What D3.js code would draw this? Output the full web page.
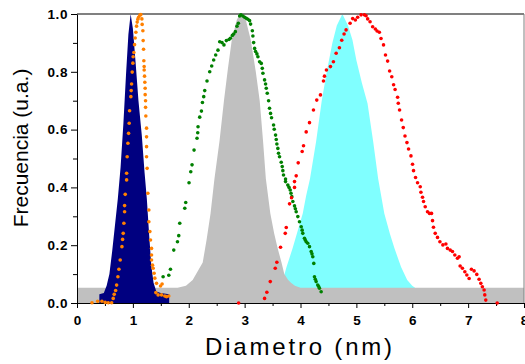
<!DOCTYPE html>
<meta charset="utf-8">
<head>
    <script src="https://d3js.org/d3.v7.min.js"></script>
</head>
<body style="margin:0; background:#fff;">
    <div id="svg_div"></div>
</body>
<style>
    .tick text { font-family: Arial, "Liberation Sans", sans-serif; font-weight: bold; font-size: 13.5px; fill: #000; }
    .yax .tick text { letter-spacing: 0.6px; }
</style>
<script>

    // filled distributions [diametro, frecuencia]
    var navyArea = [[0.40, 0], [0.40, 0.03], [0.48, 0.035], [0.53, 0.06], [0.58, 0.10], [0.63, 0.18], [0.68, 0.27],
        [0.73, 0.36], [0.78, 0.47], [0.83, 0.62], [0.88, 0.80], [0.92, 0.93], [0.96, 1.0], [1.00, 0.95],
        [1.05, 0.83], [1.10, 0.70], [1.16, 0.58], [1.21, 0.45], [1.25, 0.36], [1.29, 0.24], [1.33, 0.13],
        [1.37, 0.07], [1.42, 0.04], [1.50, 0.035], [1.65, 0.03], [1.65, 0]];

    var grayArea = [[0, 0], [0, 0.053], [1.80, 0.053], [1.95, 0.06], [2.07, 0.08], [2.16, 0.11], [2.25, 0.14],
        [2.32, 0.22], [2.39, 0.31], [2.46, 0.43], [2.55, 0.56], [2.63, 0.70], [2.70, 0.81], [2.77, 0.91],
        [2.86, 0.98], [2.92, 1.0], [3.02, 0.98], [3.11, 0.91], [3.20, 0.80], [3.27, 0.70], [3.33, 0.56],
        [3.38, 0.43], [3.46, 0.31], [3.53, 0.24], [3.59, 0.19], [3.66, 0.14], [3.71, 0.10], [3.78, 0.08],
        [3.83, 0.07], [3.90, 0.06], [4.00, 0.053], [8, 0.053], [8, 0]];

    var cyanArea = [[3.70, 0], [3.70, 0.09], [3.75, 0.125], [3.86, 0.19], [3.95, 0.25], [4.04, 0.31], [4.10, 0.37],
        [4.17, 0.43], [4.28, 0.56], [4.38, 0.70], [4.47, 0.80], [4.57, 0.90], [4.65, 0.96], [4.75, 1.0],
        [4.85, 0.96], [4.93, 0.91], [5.00, 0.84], [5.10, 0.76], [5.20, 0.69], [5.30, 0.56], [5.39, 0.43],
        [5.50, 0.31], [5.60, 0.24], [5.68, 0.19], [5.80, 0.125], [5.91, 0.08], [6.00, 0.06], [6.05, 0.053], [6.05, 0]];

    // measured points
    var orangeDots = [[0.268, 0.001], [0.370, 0.006], [0.446, 0.006], [0.505, 0.002], [0.559, 0.001], [0.620, 0.001],
        [0.648, 0.016], [0.666, 0.030], [0.691, 0.043], [0.709, 0.062], [0.732, 0.091], [0.750, 0.117],
        [0.773, 0.149], [0.804, 0.195], [0.816, 0.220], [0.827, 0.241], [0.839, 0.276], [0.852, 0.316],
        [0.852, 0.337], [0.863, 0.376], [0.888, 0.426], [0.888, 0.449], [0.898, 0.506], [0.911, 0.553],
        [0.923, 0.587], [0.934, 0.622], [0.941, 0.665], [0.964, 0.714], [0.970, 0.735], [0.977, 0.758],
        [0.988, 0.799], [1.000, 0.830], [1.005, 0.852], [1.018, 0.867], [1.030, 0.894], [1.041, 0.917],
        [1.054, 0.937], [1.066, 0.958], [1.077, 0.972], [1.089, 0.982], [1.102, 0.989], [1.125, 0.996],
        [1.143, 0.998], [1.161, 0.983], [1.166, 0.964], [1.179, 0.942], [1.184, 0.908], [1.191, 0.878],
        [1.196, 0.838], [1.202, 0.818], [1.202, 0.806], [1.209, 0.785], [1.214, 0.764], [1.220, 0.743],
        [1.220, 0.721], [1.227, 0.700], [1.227, 0.677], [1.232, 0.647], [1.245, 0.605], [1.245, 0.575],
        [1.245, 0.541], [1.245, 0.506], [1.255, 0.466], [1.268, 0.380], [1.286, 0.322], [1.286, 0.281],
        [1.304, 0.247], [1.316, 0.218], [1.334, 0.189], [1.334, 0.166], [1.334, 0.149], [1.352, 0.131],
        [1.363, 0.120], [1.380, 0.103], [1.393, 0.086], [1.423, 0.068], [1.523, 0.066], [1.495, 0.059],
        [1.411, 0.036], [1.452, 0.028], [1.513, 0.028], [1.571, 0.024], [1.602, 0.022], [1.643, 0.024]];

    var greenDots = [[1.541, 0.091], [1.643, 0.096], [1.673, 0.117], [1.732, 0.183], [1.798, 0.212], [1.821, 0.233],
        [1.839, 0.276], [1.929, 0.328], [1.946, 0.348], [2.005, 0.416], [2.036, 0.454], [2.059, 0.478],
        [2.095, 0.529], [2.148, 0.570], [2.161, 0.589], [2.166, 0.610], [2.196, 0.643], [2.227, 0.664],
        [2.245, 0.694], [2.268, 0.714], [2.286, 0.735], [2.327, 0.768], [2.375, 0.800], [2.411, 0.820],
        [2.446, 0.841], [2.482, 0.858], [2.523, 0.875], [2.554, 0.904], [2.595, 0.901], [2.630, 0.893],
        [2.673, 0.908], [2.720, 0.912], [2.745, 0.916], [2.780, 0.926], [2.804, 0.931], [2.834, 0.939],
        [2.863, 0.958], [2.888, 0.968], [2.911, 0.993], [2.934, 0.997], [2.970, 0.993], [3.000, 0.989],
        [3.030, 0.985], [3.059, 0.982], [3.089, 0.977], [3.107, 0.965], [3.138, 0.942], [3.148, 0.924],
        [3.161, 0.901], [3.179, 0.881], [3.196, 0.870], [3.220, 0.862], [3.238, 0.852], [3.268, 0.835],
        [3.298, 0.829], [3.316, 0.812], [3.327, 0.795], [3.357, 0.772], [3.375, 0.758], [3.387, 0.743],
        [3.405, 0.726], [3.429, 0.700], [3.446, 0.674], [3.464, 0.656], [3.482, 0.641], [3.518, 0.616],
        [3.530, 0.601], [3.554, 0.581], [3.566, 0.566], [3.577, 0.550], [3.595, 0.535], [3.607, 0.518],
        [3.625, 0.506], [3.655, 0.487], [3.673, 0.472], [3.684, 0.458], [3.696, 0.443], [3.732, 0.429],
        [3.732, 0.420], [3.773, 0.408], [3.795, 0.400], [3.816, 0.391], [3.830, 0.380], [3.845, 0.368],
        [3.863, 0.351], [3.893, 0.336], [3.908, 0.326], [3.923, 0.316], [3.952, 0.299], [3.982, 0.281],
        [4.013, 0.264], [4.030, 0.252], [4.041, 0.241], [4.071, 0.224], [4.085, 0.218], [4.102, 0.212],
        [4.130, 0.207], [4.161, 0.195], [4.191, 0.178], [4.205, 0.170], [4.220, 0.160], [4.238, 0.137],
        [4.250, 0.091], [4.265, 0.082], [4.280, 0.074], [4.309, 0.062], [4.325, 0.057], [4.339, 0.051], [4.370, 0.039]];

    var redDots = [[2.893, 0.0], [3.357, 0.016], [3.398, 0.037], [3.459, 0.074], [3.548, 0.120], [3.577, 0.141],
        [3.643, 0.193], [3.727, 0.241], [3.745, 0.261], [3.804, 0.343], [3.839, 0.364], [3.893, 0.400],
        [3.893, 0.420], [3.923, 0.440], [3.959, 0.485], [4.030, 0.524], [4.054, 0.544], [4.102, 0.592],
        [4.161, 0.624], [4.232, 0.668], [4.291, 0.702], [4.357, 0.720], [4.411, 0.768], [4.429, 0.785],
        [4.464, 0.806], [4.536, 0.818], [4.589, 0.835], [4.638, 0.864], [4.696, 0.883], [4.738, 0.909],
        [4.780, 0.931], [4.816, 0.945], [4.888, 0.968], [4.934, 0.984], [4.982, 0.979], [5.023, 0.989],
        [5.084, 0.997], [5.143, 0.997], [5.173, 0.994], [5.202, 0.983], [5.245, 0.973], [5.291, 0.956],
        [5.339, 0.948], [5.370, 0.941], [5.411, 0.937], [5.441, 0.915], [5.486, 0.893], [5.521, 0.858],
        [5.559, 0.837], [5.595, 0.803], [5.634, 0.783], [5.666, 0.755], [5.693, 0.739], [5.738, 0.712],
        [5.750, 0.691], [5.773, 0.668], [5.809, 0.633], [5.839, 0.607], [5.870, 0.578], [5.905, 0.555],
        [5.934, 0.533], [5.977, 0.509], [6.005, 0.480], [6.023, 0.458], [6.059, 0.434], [6.095, 0.416],
        [6.143, 0.402], [6.155, 0.383], [6.184, 0.366], [6.202, 0.351], [6.232, 0.333], [6.273, 0.316],
        [6.309, 0.310], [6.345, 0.310], [6.363, 0.285], [6.380, 0.262], [6.411, 0.241], [6.452, 0.227],
        [6.495, 0.212], [6.548, 0.201], [6.602, 0.204], [6.630, 0.189], [6.679, 0.183], [6.720, 0.178],
        [6.762, 0.166], [6.809, 0.155], [6.839, 0.160], [6.857, 0.128], [6.898, 0.120], [6.941, 0.108],
        [6.977, 0.097], [7.018, 0.085], [7.059, 0.117], [7.107, 0.111], [7.155, 0.099], [7.196, 0.082],
        [7.227, 0.068], [7.255, 0.056], [7.286, 0.045], [7.298, 0.028], [7.316, 0.010], [7.52, 0.0]];

    var xTicks = [0, 1, 2, 3, 4, 5, 6, 7, 8];
    var yTicks = [0, 0.2, 0.4, 0.6, 0.8, 1.0];

    function draw_chart() {
        let width = 525, height = 364;
        let svg = d3.select("#svg_div").append("svg")
            .attr("width", width)
            .attr("height", height);

        let x = d3.scaleLinear().domain([0, 8]).range([77, 524]);
        let y = d3.scaleLinear().domain([0, 1]).range([303, 14]);

        let area = d3.area()
            .x(d => x(d[0]))
            .y0(y(0))
            .y1(d => y(d[1]));

        // filled curves, cyan under gray, navy on top
        svg.append("path").datum(cyanArea).attr("d", area).attr("fill", "#80FFFF");
        svg.append("path").datum(grayArea).attr("d", area).attr("fill", "#C0C0C0");
        svg.append("path").datum(navyArea).attr("d", area).attr("fill", "#000080");

        // frame top/right
        svg.append("line").attr("x1", x(0)).attr("x2", x(8)).attr("y1", y(1)).attr("y2", y(1))
            .attr("stroke", "#808080").attr("stroke-width", 2);
        svg.append("line").attr("x1", x(8)).attr("x2", x(8)).attr("y1", y(1)).attr("y2", y(0))
            .attr("stroke", "#808080").attr("stroke-width", 1);

        // minor ticks
        let minorX = d3.range(0.5, 8, 1);
        let minorY = d3.range(0.1, 1, 0.2);
        svg.append("g").attr("transform", "translate(0," + y(0) + ")")
            .call(d3.axisBottom(x).tickValues(minorX).tickSize(3).tickFormat(""))
            .call(g => g.select(".domain").remove());
        svg.append("g").attr("transform", "translate(" + x(0) + ",0)")
            .call(d3.axisLeft(y).tickValues(minorY).tickSize(4).tickFormat(""))
            .call(g => g.select(".domain").remove());

        // major axes
        svg.append("g").attr("transform", "translate(0," + y(0) + ")")
            .call(d3.axisBottom(x).tickValues(xTicks).tickSize(5).tickSizeOuter(0).tickPadding(7).tickFormat(d3.format("d")));
        svg.append("g").attr("class", "yax").attr("transform", "translate(" + x(0) + ",0)")
            .call(d3.axisLeft(y).tickValues(yTicks).tickSize(6).tickSizeOuter(0).tickPadding(3).tickFormat(d3.format(".1f")));

        // points
        let dotSets = [[orangeDots, "#FF8000"], [greenDots, "#008000"], [redDots, "#FF0000"]];
        dotSets.forEach(function (s) {
            svg.append("g").selectAll("circle")
                .data(s[0])
                .enter().append("circle")
                .attr("cx", d => x(d[0]))
                .attr("cy", d => y(d[1]))
                .attr("r", 1.8)
                .attr("fill", s[1]);
        });

        // axis titles
        svg.append("text")
            .attr("x", 300).attr("y", 355)
            .attr("text-anchor", "middle")
            .style("font-family", "Arial, 'Liberation Sans', sans-serif")
            .style("font-size", "24px")
            .style("letter-spacing", "2.8px")
            .text("Diametro (nm)");
        svg.append("text")
            .attr("transform", "translate(28,148) rotate(-90)")
            .attr("text-anchor", "middle")
            .style("font-family", "Arial, 'Liberation Sans', sans-serif")
            .style("font-size", "21px")
            .text("Frecuencia (u.a.)");
    }

    draw_chart();

</script>
